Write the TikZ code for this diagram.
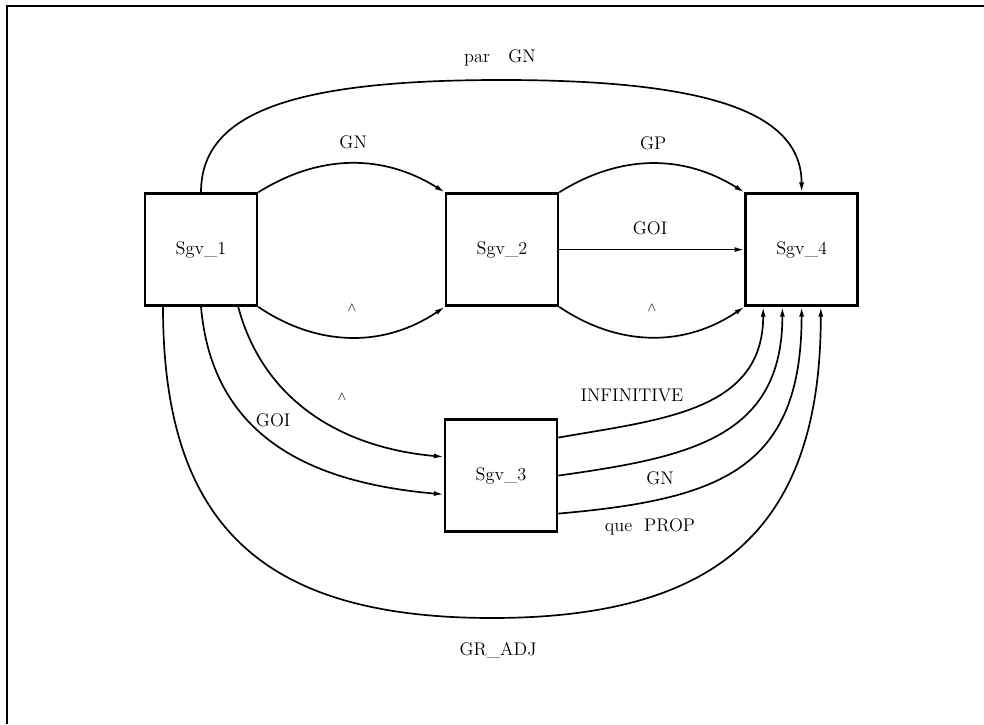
\documentclass[tikz,border=0pt]{standalone}
\usetikzlibrary{arrows.meta}
\begin{document}
\begin{tikzpicture}[every node/.style={font=\fontsize{13}{15}\selectfont},
    box/.style={draw, line width=1.8pt, minimum width=2.8cm, minimum height=2.8cm},
    link/.style={line width=1.2pt, -{Latex[length=7pt,width=3.6pt]}}]
    \useasboundingbox (0,0) rectangle (24.6,18.1);

    % Рамка
    \draw[line width=2pt] (0.175,0) -- (0.175,17.95) -- (24.6,17.95);

    % Блоки
    \node[box] (S1) at (5.025,11.86) {Sgv\_1};
    \node[box] (S2) at (12.55,11.86) {Sgv\_2};
    \node[box] (S4) at (20.04,11.86) {Sgv\_4};
    \node[box] (S3) at (12.525,6.21) {Sgv\_3};

    % Вспомогательные точки
    \coordinate (parTop) at (12.53,16.1);
    \coordinate (adjBot) at (12.3,2.65);

    % Верхние дуги
    \draw[link] (S1.north) .. controls +(0,1.98) and +(-5.25,0) .. (parTop)
        .. controls +(5.25,0) and +(0,1.98) .. (S4.north);
    \draw[link] (S1.north east) to[bend left=32] (S2.north west);
    \draw[link] (S1.south east) to[bend right=34] (S2.south west);
    \draw[link] (S2.north east) to[bend left=32] (S4.north west);
    \draw[link] (S2.east) -- (S4.west);
    \draw[link] (S2.south east) to[bend right=34] (S4.south west);

    % Дуги к Sgv_3
    \draw[link] ([xshift=0.93cm]S1.south) to[out=-75,in=175] ([yshift=0.47cm]S3.west);
    \draw[link] (S1.south) to[out=-85,in=175,looseness=1.1] ([yshift=-0.47cm]S3.west);

    % Дуги к Sgv_4 снизу
    \draw[link] ([yshift=0.95cm]S3.east) to[out=10,in=-90,looseness=1.1] ([xshift=-0.96cm]S4.south);
    \draw[link] (S3.east) to[out=8,in=-90,looseness=1.2] ([xshift=-0.48cm]S4.south);
    \draw[link] ([yshift=-0.95cm]S3.east) to[out=5,in=-90,looseness=1.3] (S4.south);
    \draw[link] ([xshift=-0.95cm]S1.south) .. controls +(0,-5.45) and +(-5.75,0) .. (adjBot)
        .. controls +(5.75,0) and +(0,-5.45) .. ([xshift=0.48cm]S4.south);

    % Подписи
    \node (lParGN) at (12.5,16.65) {par\quad GN};
    \node (lGN) at (8.83,14.55) {GN};
    \node (lGP) at (16.33,14.53) {GP};
    \node (lGOIa) at (16.25,12.4) {GOI};
    \node (lHatA) at (8.8,10.4) {$\scriptstyle\wedge$};
    \node (lHatB) at (16.3,10.4) {$\scriptstyle\wedge$};
    \node (lHatC) at (8.55,8.17) {$\scriptstyle\wedge$};
    \node (lGOIb) at (6.83,7.6) {GOI};
    \node (lInf) at (15.8,8.22) {INFINITIVE};
    \node (lGNb) at (16.5,6.15) {GN};
    \node (lQue) at (16.25,4.92) {que\ \ PROP};
    \node (lAdj) at (12.45,1.85) {GR\_ADJ};
\end{tikzpicture}
\end{document}
